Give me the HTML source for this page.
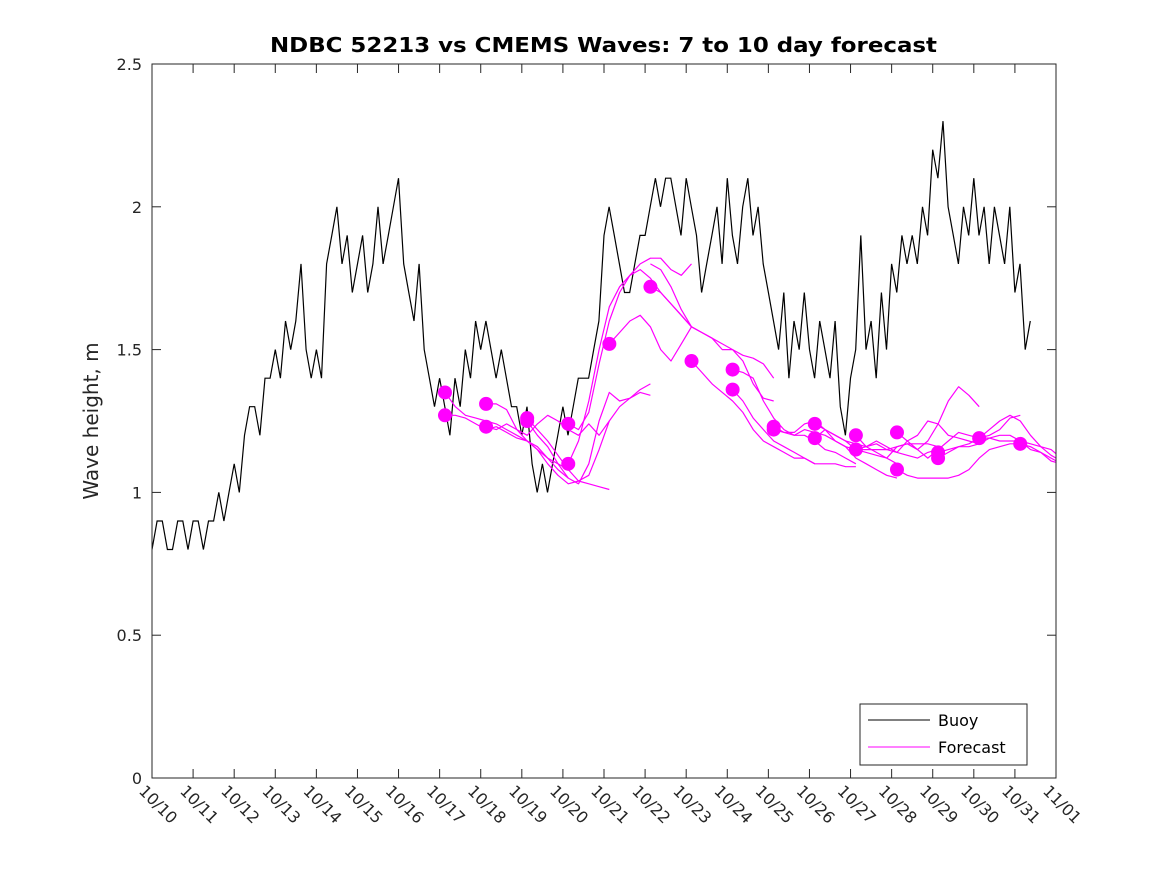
<!DOCTYPE html>
<html><head><meta charset="utf-8"><style>
body{margin:0;background:#fff;}
svg{display:block;font-family:"DejaVu Sans","Liberation Sans",sans-serif;}
</style></head><body>
<svg id="chart" width="1167" height="875" xmlns="http://www.w3.org/2000/svg">
<rect width="1167" height="875" fill="#fff"/>
<defs><clipPath id="plotclip"><rect x="152" y="64" width="904" height="714"/></clipPath></defs>
<text x="270" y="52" font-size="20" font-weight="bold" textLength="667" lengthAdjust="spacingAndGlyphs">NDBC 52213 vs CMEMS Waves: 7 to 10 day forecast</text>
<text transform="translate(98,421) rotate(-90)" text-anchor="middle" font-size="20" fill="#262626">Wave height, m</text>
<g id="axes"></g>
<g id="series" clip-path="url(#plotclip)"></g>
<rect x="152" y="64" width="904" height="714" fill="none" stroke="#262626" stroke-width="1"/>
<g>
<rect x="860" y="704" width="167" height="61" fill="#fff" stroke="#262626"/>
<line x1="868" y1="720" x2="930" y2="720" stroke="#000"/>
<text x="938" y="726" font-size="16">Buoy</text>
<line x1="868" y1="747" x2="930" y2="747" stroke="#f0f"/>
<text x="938" y="753" font-size="16">Forecast</text>
</g>
</svg>
<script>
const xTickLabels=["10/10","10/11","10/12","10/13","10/14","10/15","10/16","10/17","10/18","10/19","10/20","10/21","10/22","10/23","10/24","10/25","10/26","10/27","10/28","10/29","10/30","10/31","11/01"];
const yTicks=[0,0.5,1,1.5,2,2.5];
const yTickLabels=["0","0.5","1","1.5","2","2.5"];
// buoy wave height, 3-hourly from 10/10 00:00
const buoy=[
0.8,0.9,0.9,0.8,0.8,0.9,0.9,0.8,
0.9,0.9,0.8,0.9,0.9,1.0,0.9,1.0,
1.1,1.0,1.2,1.3,1.3,1.2,1.4,1.4,
1.5,1.4,1.6,1.5,1.6,1.8,1.5,1.4,
1.5,1.4,1.8,1.9,2.0,1.8,1.9,1.7,
1.8,1.9,1.7,1.8,2.0,1.8,1.9,2.0,
2.1,1.8,1.7,1.6,1.8,1.5,1.4,1.3,
1.4,1.3,1.2,1.4,1.3,1.5,1.4,1.6,
1.5,1.6,1.5,1.4,1.5,1.4,1.3,1.3,
1.2,1.3,1.1,1.0,1.1,1.0,1.1,1.2,
1.3,1.2,1.3,1.4,1.4,1.4,1.5,1.6,
1.9,2.0,1.9,1.8,1.7,1.7,1.8,1.9,
1.9,2.0,2.1,2.0,2.1,2.1,2.0,1.9,
2.1,2.0,1.9,1.7,1.8,1.9,2.0,1.8,
2.1,1.9,1.8,2.0,2.1,1.9,2.0,1.8,
1.7,1.6,1.5,1.7,1.4,1.6,1.5,1.7,
1.5,1.4,1.6,1.5,1.4,1.6,1.3,1.2,
1.4,1.5,1.9,1.5,1.6,1.4,1.7,1.5,
1.8,1.7,1.9,1.8,1.9,1.8,2.0,1.9,
2.2,2.1,2.3,2.0,1.9,1.8,2.0,1.9,
2.1,1.9,2.0,1.8,2.0,1.9,1.8,2.0,
1.7,1.8,1.5,1.6];
// forecast runs: start day (days since 10/10), whether start is marked, 6-hourly values
const fcStart=[7.13,7.13,8.13,8.13,9.13,9.13,10.13,10.13,11.13,12.13,12.13,13.13,14.13,14.13,15.13,15.13,16.13,16.13,17.13,17.13,18.13,18.13,19.13,19.13,20.13,21.13];
const fcMarked=[1,1,1,1,1,1,1,1,1,1,0,1,1,1,1,1,1,1,1,1,1,1,1,1,1,1];
const fcValues=[
[1.35,1.30,1.27,1.26,1.25,1.24,1.22,1.20,1.18,1.16,1.12,1.08,1.05],
[1.27,1.27,1.26,1.24,1.22,1.23,1.21,1.19,1.18,1.15,1.12,1.10,1.08],
[1.31,1.31,1.29,1.22,1.18,1.15,1.10,1.06,1.03,1.04,1.03,1.02,1.01],
[1.23,1.22,1.24,1.22,1.20,1.24,1.27,1.25,1.22,1.20,1.24,1.20,1.25],
[1.26,1.22,1.18,1.13,1.08,1.04,1.06,1.15,1.25,1.30,1.33,1.36,1.38],
[1.25,1.20,1.16,1.10,1.05,1.03,1.10,1.25,1.35,1.32,1.33,1.35,1.34],
[1.24,1.22,1.28,1.45,1.60,1.70,1.76,1.80,1.82,1.82,1.78,1.76,1.80],
[1.10,1.18,1.32,1.50,1.65,1.72,1.76,1.78,1.75,1.70,1.66,1.62,1.58],
[1.52,1.56,1.60,1.62,1.58,1.50,1.46,1.52,1.58],
[1.72,1.70,1.66,1.62,1.58,1.56,1.54,1.52,1.50,1.48,1.47,1.45,1.40],
[1.80,1.78,1.72,1.64,1.58,1.56,1.54,1.50,1.50,1.46,1.38,1.33,1.32],
[1.46,1.42,1.38,1.35,1.32,1.28,1.22,1.18,1.16,1.14,1.12,1.12,1.10],
[1.43,1.42,1.40,1.32,1.26,1.22,1.20,1.20,1.18,1.15,1.14,1.12,1.10],
[1.36,1.32,1.26,1.22,1.18,1.16,1.14,1.12,1.10,1.10,1.10,1.09,1.09],
[1.23,1.21,1.21,1.24,1.25,1.22,1.20,1.18,1.17,1.16,1.14,1.12,1.10],
[1.22,1.21,1.20,1.22,1.21,1.20,1.18,1.16,1.12,1.10,1.08,1.06,1.05],
[1.24,1.22,1.18,1.16,1.15,1.15,1.15,1.15,1.16,1.17,1.17,1.17,1.16],
[1.19,1.22,1.20,1.18,1.15,1.16,1.18,1.16,1.14,1.13,1.12,1.14,1.15],
[1.20,1.16,1.17,1.15,1.14,1.18,1.20,1.25,1.24,1.20,1.19,1.18,1.17],
[1.15,1.14,1.13,1.12,1.16,1.17,1.15,1.18,1.24,1.32,1.37,1.34,1.30],
[1.21,1.18,1.15,1.12,1.15,1.18,1.21,1.20,1.19,1.20,1.22,1.26,1.27],
[1.08,1.06,1.05,1.05,1.05,1.05,1.06,1.08,1.12,1.15,1.16,1.17,1.17],
[1.14,1.15,1.16,1.17,1.19,1.22,1.25,1.27,1.25,1.20,1.16,1.13,1.11],
[1.12,1.14,1.16,1.16,1.17,1.19,1.20,1.20,1.18,1.15,1.14,1.11,1.10],
[1.19,1.19,1.18,1.18,1.18,1.17,1.16,1.15,1.12,1.09,1.07,1.05,1.04],
[1.17,1.16,1.14,1.12,1.10,1.08]];
const X0=152,X1=1056,Y0=778,Y1=64;
const xs=d=>X0+(X1-X0)*d/22;
const ys=v=>Y0-(Y0-Y1)*v/2.5;
const NS="http://www.w3.org/2000/svg";
function mk(tag,attrs,parent){const e=document.createElementNS(NS,tag);for(const k in attrs)e.setAttribute(k,attrs[k]);parent.appendChild(e);return e;}
const axes=document.getElementById('axes'),series=document.getElementById('series');
xTickLabels.forEach((lab,i)=>{
 const x=xs(i);
 const t1=mk('line',{x1:x,y1:Y0,x2:x,y2:Y0-9,stroke:'#262626'},axes);
 
 
 mk('line',{x1:x,y1:Y1,x2:x,y2:Y1+9,stroke:'#262626'},axes);
 const t=mk('text',{transform:`translate(${x-14},${Y0+14}) rotate(45)`,'font-size':'16',fill:'#262626'},axes);
 
 
 t.textContent=lab;
});
yTicks.forEach((v,i)=>{
 const y=ys(v);
 mk('line',{x1:X0,y1:y,x2:X0+9,y2:y,stroke:'#262626'},axes);
 mk('line',{x1:X1,y1:y,x2:X1-9,y2:y,stroke:'#262626'},axes);
 const t=mk('text',{x:X0-10,y:y+6,'text-anchor':'end','font-size':'16',fill:'#262626'},axes);
 
 
 t.textContent=yTickLabels[i];
});
const bp=buoy.map((v,i)=>`${xs(i/8).toFixed(1)},${ys(v).toFixed(1)}`).join(' ');
const bl=mk('polyline',{points:bp,fill:'none',stroke:'#000','stroke-width':'1.2'},series);


fcValues.forEach((vals,k)=>{
 const p=vals.map((v,i)=>`${xs(fcStart[k]+i*0.25).toFixed(1)},${ys(v).toFixed(1)}`).join(' ');
 const l=mk('polyline',{points:p,fill:'none',stroke:'#f0f','stroke-width':'1.2','stroke-linejoin':'round'},series);
 
 
});
fcValues.forEach((vals,k)=>{
 if(!fcMarked[k])return;
 const c=mk('circle',{cx:xs(fcStart[k]),cy:ys(vals[0]),r:7,fill:'#f0f'},series);
 
 
});
</script>
</body></html>
